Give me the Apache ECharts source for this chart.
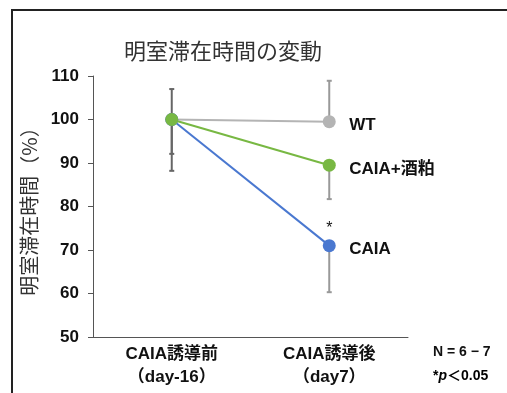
<!DOCTYPE html>
<html><head><meta charset="utf-8">
<script src="https://cdn.jsdelivr.net/npm/echarts@6/dist/echarts.min.js"></script>
<style>html,body{margin:0;padding:0;background:#fff}#c{width:507px;height:393px}</style>
</head><body><div id="c"></div>
<script>
var categories = ['CAIA誘導前\n（day-16）', 'CAIA誘導後\n（day7）'];
var seriesNames = ['WT', 'CAIA+酒粕', 'CAIA'];
var wtValues = [100, 99.5];
var sakeValues = [100, 89.5];
var caiaValues = [100, 71.0];
var errCat = [0, 0, 1, 1, 1];
var errLow = [92.1, 88.2, 99.5, 81.7, 60.3];
var errHigh = [107.0, 100, 108.9, 89.5, 71.0];
var yTicks = [50, 60, 70, 80, 90, 100, 110];
var noteLines = ['N = 6 − 7', '*p＜0.05'];

var FONT = '"Liberation Sans", "Noto Sans CJK JP", sans-serif';
var JFONT = '"Noto Sans CJK JP", sans-serif';
var chart = echarts.init(document.getElementById('c'), null, {renderer: 'canvas'});
var errData = errCat.map(function (c, i) { return [c, errLow[i], errHigh[i]]; });

function lineSeries(name, data, color) {
  return {
    name: name, type: 'line', data: data, z: 3,
    symbol: 'circle', symbolSize: 13,
    itemStyle: {color: color},
    lineStyle: {color: color, width: 2},
    endLabel: {show: true, formatter: '{a}', distance: 20, offset: [0, 4], color: '#111',
      fontWeight: 'bold', fontSize: 17, fontFamily: FONT}
  };
}
var caiaSeries = lineSeries(seriesNames[2], caiaValues, '#4a78d0');
caiaSeries.markPoint = {
  symbol: 'circle', symbolSize: 0,
  data: [{coord: [1, caiaValues[1]], value: '*'}],
  label: {show: true, formatter: '*', offset: [0, -17], color: '#111', fontSize: 16, fontFamily: FONT}
};

chart.setOption({
  animation: false,
  title: {text: '明室滞在時間の変動', left: 119, top: 35,
    textStyle: {fontSize: 22, fontWeight: 'normal', color: '#333', fontFamily: JFONT}},
  grid: {left: 93, right: 99, top: 76, bottom: 56},
  xAxis: {
    type: 'category', data: categories, boundaryGap: true,
    axisLine: {lineStyle: {color: '#555', width: 1}},
    axisTick: {inside: true, alignWithLabel: true, length: 4, lineStyle: {color: '#555'}},
    axisLabel: {color: '#111', fontWeight: 'bold', fontSize: 17, lineHeight: 23, margin: 6, fontFamily: FONT}
  },
  yAxis: {
    type: 'value', min: yTicks[0], max: yTicks[yTicks.length - 1], interval: 10,
    name: '明室滞在時間（%）', nameLocation: 'middle', nameRotate: 90, nameGap: 54,
    nameTextStyle: {fontSize: 20, color: '#333', fontFamily: JFONT},
    axisLine: {show: true, lineStyle: {color: '#555', width: 1}},
    axisTick: {show: true, length: 5, lineStyle: {color: '#555'}},
    splitLine: {show: false},
    axisLabel: {color: '#111', fontWeight: 'bold', fontSize: 17, margin: 14, fontFamily: FONT}
  },
  series: [
    {
      type: 'custom', z: 1, data: errData,
      renderItem: function (params, api) {
        var x = api.coord([api.value(0), 0])[0];
        var lo = api.coord([api.value(0), api.value(1)])[1];
        var hi = api.coord([api.value(0), api.value(2)])[1];
        var col = api.value(0) === 0 ? '#666' : '#999';
        var st = {stroke: col, lineWidth: 2};
        return {type: 'group', children: [
          {type: 'line', shape: {x1: x, y1: lo, x2: x, y2: hi}, style: st},
          {type: 'line', shape: {x1: x - 2.5, y1: lo, x2: x + 2.5, y2: lo}, style: st},
          {type: 'line', shape: {x1: x - 2.5, y1: hi, x2: x + 2.5, y2: hi}, style: st}
        ]};
      }
    },
    lineSeries(seriesNames[0], wtValues, '#b4b4b4'),
    caiaSeries,
    lineSeries(seriesNames[1], sakeValues, '#78b843')
  ],
  graphic: [
    {type: 'rect', shape: {x: 12, y: 10, width: 600, height: 500},
      style: {fill: 'none', stroke: '#222', lineWidth: 2}},
    {type: 'text', left: 433, top: 345,
      style: {text: noteLines[0], font: 'bold 14px ' + FONT, fill: '#111'}},
    {type: 'text', left: 433, top: 369,
      style: {text: '{a|*}{b|p}{a|' + noteLines[1].slice(2) + '}',
        rich: {a: {fontWeight: 'bold', fontSize: 14, fontFamily: FONT, color: '#111'},
               b: {fontWeight: 'bold', fontStyle: 'italic', fontSize: 14, fontFamily: FONT, color: '#111'}}}}
  ]
});
</script></body></html>
